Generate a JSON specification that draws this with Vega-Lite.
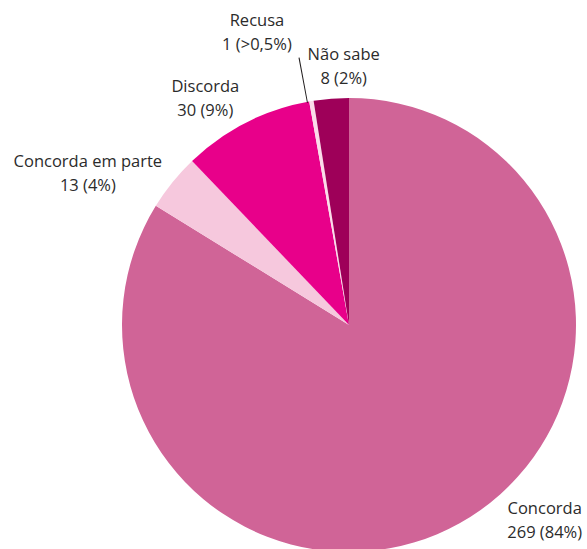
{
  "$schema": "https://vega.github.io/schema/vega-lite/v6.json",
  "width": 454,
  "height": 454,
  "autosize": {"type": "none"},
  "padding": {"left": 122, "top": 98, "right": 11, "bottom": 0},
  "background": "white",
  "config": {"view": {"stroke": null}},
  "data": {
    "values": [
      {"cat": "Concorda", "n": 269, "o": 1, "label": "Concorda\n269 (84%)"},
      {"cat": "Concorda em parte", "n": 13, "o": 2, "label": "Concorda em parte\n13 (4%)"},
      {"cat": "Discorda", "n": 30, "o": 3, "label": "Discorda\n30 (9%)"},
      {"cat": "Recusa", "n": 1, "o": 4, "label": "Recusa\n1 (>0,5%)"},
      {"cat": "Não sabe", "n": 8, "o": 5, "label": "Não sabe\n8 (2%)"}
    ]
  },
  "encoding": {
    "theta": {"field": "n", "type": "quantitative", "stack": true},
    "order": {"field": "o", "type": "quantitative"}
  },
  "layer": [
    {
      "mark": {"type": "arc"},
      "encoding": {
        "color": {
          "field": "cat",
          "type": "nominal",
          "scale": {
            "domain": ["Concorda", "Concorda em parte", "Discorda", "Recusa", "Não sabe"],
            "range": ["#d06497", "#f6c8dd", "#e8008a", "#fbdce9", "#9e0059"]
          },
          "legend": null
        }
      }
    },
    {
      "data": {"values": [{"k": 1}]},
      "mark": {"type": "arc", "theta": 6.0964, "theta2": 6.1004, "radius": 272, "radius2": 226, "fill": "#231f20"},
      "encoding": {"theta": null, "order": null}
    },
    {
      "mark": {"type": "text", "radius": 260, "dx": 69, "dy": -43, "lineBreak": "\n", "lineHeight": 24, "fontSize": 16.5, "font": "Open Sans", "fill": "#2b2b2b"},
      "encoding": {"text": {"condition": {"test": "datum.cat === 'Concorda'", "field": "label"}, "value": ""}}
    },
    {
      "mark": {"type": "text", "radius": 260, "dx": -59, "dy": 1, "lineBreak": "\n", "lineHeight": 24, "fontSize": 16.5, "font": "Open Sans", "fill": "#2b2b2b"},
      "encoding": {"text": {"condition": {"test": "datum.cat === 'Concorda em parte'", "field": "label"}, "value": ""}}
    },
    {
      "mark": {"type": "text", "radius": 260, "dx": -26, "dy": -6, "lineBreak": "\n", "lineHeight": 24, "fontSize": 16.5, "font": "Open Sans", "fill": "#2b2b2b"},
      "encoding": {"text": {"condition": {"test": "datum.cat === 'Discorda'", "field": "label"}, "value": ""}}
    },
    {
      "mark": {"type": "text", "radius": 260, "dx": -49, "dy": -48, "lineBreak": "\n", "lineHeight": 24, "fontSize": 16.5, "font": "Open Sans", "fill": "#2b2b2b"},
      "encoding": {"text": {"condition": {"test": "datum.cat === 'Recusa'", "field": "label"}, "value": ""}}
    },
    {
      "mark": {"type": "text", "radius": 260, "dx": 15, "dy": -11, "lineBreak": "\n", "lineHeight": 24, "fontSize": 16.5, "font": "Open Sans", "fill": "#2b2b2b"},
      "encoding": {"text": {"condition": {"test": "datum.cat === 'Não sabe'", "field": "label"}, "value": ""}}
    }
  ]
}
